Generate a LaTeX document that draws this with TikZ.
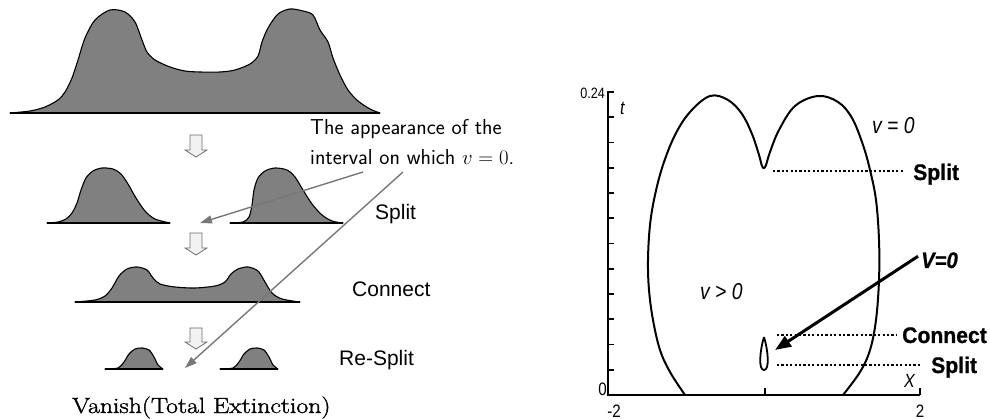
\documentclass[tikz,border=0pt]{standalone}
\usepackage{fontspec}
\usetikzlibrary{arrows.meta}
\newfontfamily\arialfont{Liberation Sans}
\newfontfamily\narrowfont[FakeStretch=0.84]{Liberation Sans}
\newfontfamily\boldnarrowfont[FakeStretch=0.94,FakeBold=0.8]{Liberation Sans}
\newfontfamily\vanishfont[FakeStretch=1.17,FakeBold=1.5]{Latin Modern Roman}
\definecolor{humpgray}{RGB}{128,128,128}
\definecolor{pointgray}{RGB}{120,120,120}
\definecolor{blockfill}{RGB}{242,242,242}
\definecolor{blockline}{RGB}{110,110,110}
\tikzset{
  hump/.style={fill=humpgray,draw=black,line width=1.1pt,line join=round},
  baseln/.style={draw=black,line width=1.4pt},
  downarrow/.style={fill=blockfill,draw=blockline,line width=0.8pt,line join=miter},
  pointer/.style={draw=pointgray,line width=1.4pt,-{Triangle[length=12pt,width=8pt]}},
  leftlabel/.style={inner sep=0pt,anchor=base west,font=\arialfont\fontsize{21}{21}\selectfont},
  plotline/.style={draw=black,line width=2pt},
  dots/.style={draw=black,line width=2.6pt,dash pattern=on 2.2pt off 2.2pt},
  boldlabel/.style={inner sep=0pt,anchor=base west,font=\boldnarrowfont\bfseries\fontsize{22.5}{22.5}\selectfont},
  itlabel/.style={inner sep=0pt,anchor=base west,font=\narrowfont\itshape\fontsize{23}{23}\selectfont},
  ticklabel/.style={inner sep=0pt,font=\narrowfont\fontsize{18}{18}\selectfont},
  tickmark/.style={line width=1.6pt},
}
\begin{document}
\begin{tikzpicture}[x=1pt,y=-1pt]
\useasboundingbox (0,0) rectangle (990,419);

% ---- top profile ----
\path[hump] plot[smooth] coordinates {(10,113) (30,111) (45,107) (58,100) (65,92) (72,78) (78,60) (85,38) (95,20) (110,10) (125,12) (135,22) (142,40) (147,52) (155,60) (170,67) (185,71) (200,72) (220,72) (235,70) (250,64) (258,56) (262,42) (268,28) (278,14) (290,9) (303,11) (313,15) (320,30) (328,42) (333,58) (340,75) (348,90) (358,101) (370,109) (380,113)} -- cycle;
\draw[baseln] (10,113) -- (380,113);

% ---- down arrows ----
\path[downarrow] (190,135) -- (202,135) -- (202,150) -- (207,150) -- (196,157) -- (185,150) -- (190,150) -- cycle;
\path[downarrow] (190,233) -- (202,233) -- (202,248) -- (207,248) -- (196,255) -- (185,248) -- (190,248) -- cycle;
\path[downarrow] (190,328) -- (202,328) -- (202,342) -- (207,342) -- (196,349) -- (185,342) -- (190,342) -- cycle;

% ---- split row ----
\path[hump] plot[smooth] coordinates {(47,223) (58,222) (66,219) (72,213) (77,203) (81,190) (86,178) (93,171) (102,168) (113,169) (121,174) (128,184) (136,198) (145,211) (155,219) (170,223)} -- cycle;
\draw[baseln] (47,223) -- (170,223);
\path[hump] plot[smooth] coordinates {(230,223) (243,222) (249,217) (252,205) (254,190) (258,178) (265,171) (275,168) (287,170) (295,177) (303,190) (312,204) (322,215) (332,221) (343,223)} -- cycle;
\draw[baseln] (230,223) -- (343,223);

% ---- connect row ----
\path[hump] plot[smooth] coordinates {(75,302) (95,300) (105,296) (112,288) (119,276) (127,269) (137,267) (147,270) (153,278) (160,284) (175,287) (195,288) (215,286) (225,282) (231,274) (238,269) (248,267) (258,271) (265,282) (272,293) (282,299) (300,302)} -- cycle;
\draw[baseln] (75,302) -- (300,302);

% ---- re-split row ----
\path[hump] plot[smooth] coordinates {(105,369) (118,368) (124,362) (129,354) (135,349) (142,348) (149,350) (154,357) (158,365) (163,369)} -- cycle;
\draw[baseln] (105,369) -- (163,369);
\path[hump] plot[smooth] coordinates {(220,369) (233,368) (239,362) (244,354) (250,349) (257,348) (264,350) (269,357) (273,365) (278,369)} -- cycle;
\draw[baseln] (220,369) -- (278,369);

% ---- left labels ----
\node[leftlabel] (lsplit) at (375,220) {Split};
\node[leftlabel] (lconnect) at (352,297) {Connect};
\node[leftlabel] (lresplit) at (339,365) {Re-Split};
\node[inner sep=0pt,anchor=base west,font=\vanishfont\fontsize{22}{22}\selectfont] (vanish) at (72,413) {Vanish(Total Extinction)};

% ---- annotation ----
\node[inner sep=0pt,anchor=base west] (ann1) at (310,135) {\sffamily\fontsize{21.6}{21.6}\selectfont\addfontfeatures{FakeStretch=1.18,FakeBold=0.4}The appearance of the};
\node[inner sep=0pt,anchor=base west] (ann2) at (310,165) {\sffamily\fontsize{21.6}{21.6}\selectfont\addfontfeatures{FakeStretch=1.18,FakeBold=0.4}interval on which $v=0$.};
\coordinate (gapsplit) at (200,223);
\coordinate (gapresplit) at (185,368);
\coordinate (from1) at (363,172);
\coordinate (from2) at (403,172);
\draw[pointer] (from1) -- (gapsplit);
\draw[pointer] (from2) -- (gapresplit);

% ---- right plot: axes ----
\coordinate (origin) at (608,395);
\coordinate (ytop) at (608,92);
\coordinate (xend) at (920,395);
\draw[plotline,line cap=butt] (614,92) -- (ytop) -- (origin) -- (xend);
\foreach \k in {1,...,11} {
  \draw[tickmark] (608,92+25.25*\k) -- (614,92+25.25*\k);
}
\draw[tickmark] (765,395) -- (765,388);
\draw[tickmark] (920,395) -- (920,388);
\node[ticklabel,anchor=base east] (ylab24) at (605,99) {\fontsize{15}{15}\selectfont 0.24};
\node[ticklabel,anchor=base east] (ylab0) at (607,395) {0};
\node[ticklabel,anchor=base] (xlabm2) at (614,417) {-2};
\node[ticklabel,anchor=base] (xlab2) at (920,417) {2};
\node[inner sep=0pt,anchor=base west,font=\narrowfont\itshape\fontsize{19}{19}\selectfont] (tlab) at (620,115) {t};
\node[inner sep=0pt,anchor=base west,font=\narrowfont\itshape\fontsize{19}{19}\selectfont] (xlab) at (904,387) {X};

% ---- right plot: curve ----
\draw[plotline,line join=round] plot[smooth,tension=0.6] coordinates {(685,395) (670,372) (660,350) (653,320) (649,290) (648,260) (650,225) (655,195) (663,165) (675,135) (690,112) (710,96) (728,100) (742,114) (752,134) (759,155) (762,166) (764,168) (766,165) (770,152) (779,130) (795,106) (818,96) (838,102) (852,118) (863,145) (870,170) (876,200) (879,240) (879,280) (876,320) (870,350) (860,372) (843,395)};
% teardrop
\draw[line width=1.8pt,line join=round] (764,337) .. controls (760,350) and (758,370) .. (764,370) .. controls (770,370) and (768,350) .. (764,337);

% ---- right plot: levels and labels ----
\coordinate (dip) at (773,171);
\coordinate (c1) at (777,335);
\coordinate (s2) at (777,365);
\node[boldlabel] (rsplit1) at (913,180) {Split};
\node[boldlabel] (rconnect) at (902,343) {Connect};
\node[boldlabel] (rsplit2) at (931,373) {Split};
\draw[dots] (dip) -- (903,171);
\draw[dots] (c1) -- (897,335);
\draw[dots] (s2) -- (920,365);
\node[itlabel] (vzero) at (872,134) {v = 0};
\node[itlabel] (vpos) at (700,300) {v > 0};
\node[inner sep=0pt,anchor=base west,font=\boldnarrowfont\bfseries\itshape\fontsize{22.5}{22.5}\selectfont\addfontfeatures{FakeStretch=0.9}] (Vzero) at (921,268) {V=0};
\coordinate (dropside) at (775,350);
\draw[line width=3pt,-{Triangle[length=16pt,width=12pt]}] (Vzero.west) ++(-3,-4) -- (dropside);
\end{tikzpicture}
\end{document}
